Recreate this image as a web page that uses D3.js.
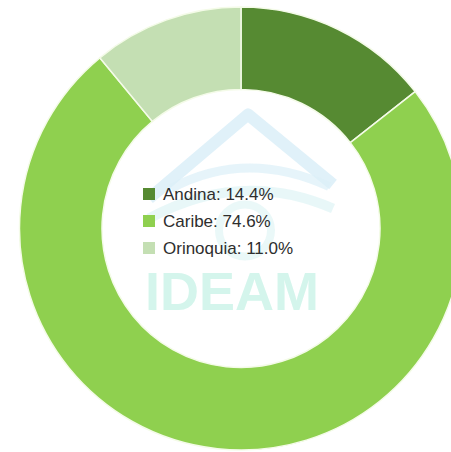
<!DOCTYPE html>
<html>
<head>
<meta charset="utf-8">
<script src="https://cdn.jsdelivr.net/npm/d3@7"></script>
<style>
  html, body { margin: 0; padding: 0; background: #ffffff; }
  svg { display: block; }
</style>
</head>
<body>
<svg id="chart" width="451" height="452"></svg>
<script>
// Regions and their share of the total (percent)
const regions = ["Andina", "Caribe", "Orinoquia"];
const shares = [14.4, 74.6, 11.0];
const colors = ["#568a32", "#8fd04f", "#c4dfb3"];

const width = 451, height = 452;
const cx = 241, cy = 228.5;
const outerR = 221.5, innerR = 139;

const svg = d3.select("#chart");

const data = regions.map((r, i) => ({ region: r, share: shares[i] }));

const pie = d3.pie()
  .value(d => d.share)
  .sort(null)
  .startAngle(0)
  .endAngle(2 * Math.PI);

const arc = d3.arc().innerRadius(innerR).outerRadius(outerR);

const color = d3.scaleOrdinal().domain(regions).range(colors);

const g = svg.append("g").attr("transform", `translate(${cx},${cy})`);

// Faint IDEAM watermark in the hole of the donut
const wm = g.append("g").attr("class", "watermark");
wm.append("path")
  .attr("d", "M-92,-30 L7,-114 L92,-44")
  .attr("fill", "none")
  .attr("stroke", "#d6ecf7")
  .attr("stroke-width", 12)
  .attr("stroke-linejoin", "round")
  .attr("opacity", 0.75);
wm.append("path")
  .attr("d", "M-70,-40 Q5,-80 88,-42")
  .attr("fill", "none")
  .attr("stroke", "#dcf0f8")
  .attr("stroke-width", 9)
  .attr("opacity", 0.7);
wm.append("path")
  .attr("d", "M-92,-10 Q0,-60 92,-20")
  .attr("fill", "none")
  .attr("stroke", "#d9f2f3")
  .attr("stroke-width", 10)
  .attr("opacity", 0.6);
wm.append("circle")
  .attr("cx", 4).attr("cy", 2).attr("r", 26)
  .attr("fill", "none")
  .attr("stroke", "#dcf3f3")
  .attr("stroke-width", 8)
  .attr("opacity", 0.6);
wm.append("text")
  .attr("x", -9).attr("y", 81.5)
  .attr("text-anchor", "middle")
  .attr("font-family", "Liberation Sans, Arial, sans-serif")
  .attr("font-weight", "bold")
  .attr("font-size", 54)
  .attr("fill", "#d4f5ec")
  .text("IDEAM");

// Donut slices
g.selectAll("path.slice")
  .data(pie(data))
  .join("path")
  .attr("class", "slice")
  .attr("d", arc)
  .attr("fill", d => color(d.data.region))
  .attr("stroke", "#f4fbe8")
  .attr("stroke-width", 1.5);

// Legend inside the hole
const legendX = 143, legendY0 = 194, rowStep = 27;
const legend = svg.append("g").attr("class", "legend");
const rows = legend.selectAll("g")
  .data(data)
  .join("g")
  .attr("transform", (d, i) => `translate(${legendX},${legendY0 + i * rowStep})`);

rows.append("rect")
  .attr("x", 0).attr("y", -6)
  .attr("width", 12).attr("height", 12)
  .attr("fill", d => color(d.region));

rows.append("text")
  .attr("x", 20).attr("y", 6)
  .attr("font-family", "Liberation Sans, Arial, sans-serif")
  .attr("font-size", 17)
  .attr("fill", "#2e2e2e")
  .text(d => `${d.region}: ${d.share.toFixed(1)}%`);
</script>
</body>
</html>
